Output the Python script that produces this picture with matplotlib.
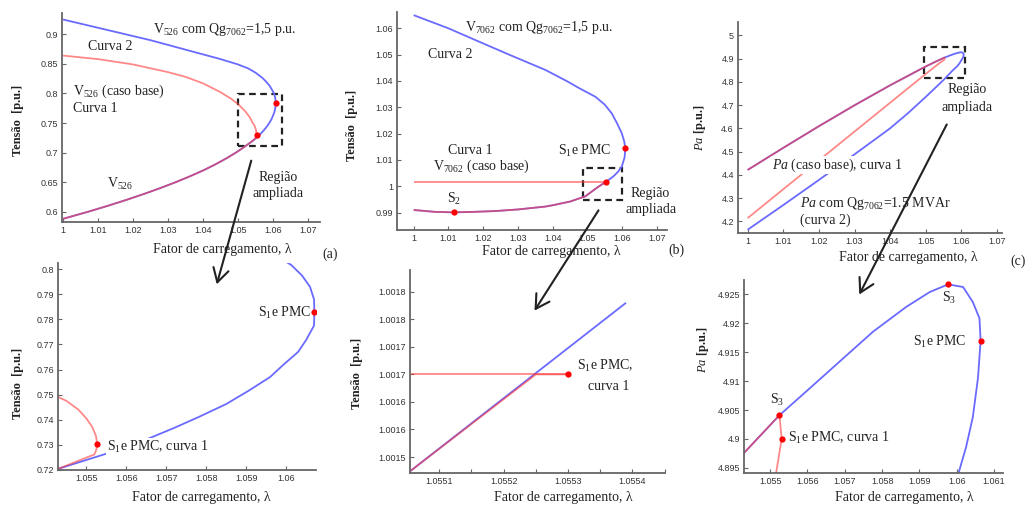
import matplotlib.pyplot as plt
from matplotlib.patches import Rectangle, FancyArrowPatch

plt.rcParams['font.family'] = ['Liberation Serif', 'DejaVu Serif']
plt.rcParams['mathtext.fontset'] = 'custom'
plt.rcParams['mathtext.rm'] = 'Liberation Serif'
plt.rcParams['mathtext.it'] = 'Liberation Serif:italic'
plt.rcParams['mathtext.bf'] = 'Liberation Serif:bold'

W, H = 1034, 508
BLUE = '#6a6aff'
RED = '#ff3a3a'
INK = '#222222'
AXC = '#666666'

# ---- panel (a): V526 ----
a_blue_x = [1.000, 1.005, 1.010, 1.015, 1.020, 1.025, 1.030, 1.035, 1.040, 1.045, 1.050,
            1.053, 1.055, 1.057, 1.058, 1.059, 1.0597, 1.06013, 1.0604, 1.0606, 1.0607,
            1.06071, 1.0607, 1.0605, 1.0603, 1.05992, 1.0596, 1.05908, 1.0585, 1.05782,
            1.0572, 1.05655, 1.0560, 1.0555, 1.0543, 1.0519, 1.0494, 1.0466, 1.0435,
            1.0401, 1.0363, 1.0322, 1.0278, 1.0231, 1.0181, 1.0128, 1.0072, 1.0036, 1.000]
a_blue_y = [0.925, 0.918, 0.911, 0.904, 0.897, 0.890, 0.882, 0.874, 0.866, 0.858, 0.849,
            0.842, 0.835, 0.826, 0.820, 0.813, 0.806, 0.8017, 0.7975, 0.793, 0.788,
            0.7831, 0.7775, 0.7717, 0.7670, 0.7617, 0.7570, 0.7517, 0.7462, 0.7411,
            0.7367, 0.7324, 0.7290, 0.7264, 0.7204, 0.710, 0.700, 0.690, 0.680,
            0.670, 0.660, 0.650, 0.640, 0.630, 0.620, 0.610, 0.600, 0.594, 0.588]
a_red_x = [1.000, 1.010, 1.020, 1.030, 1.035, 1.040, 1.045, 1.048, 1.050, 1.052, 1.0533,
           1.0538, 1.0542, 1.0545, 1.0548, 1.0550, 1.05515, 1.05524, 1.05527, 1.05525,
           1.0552, 1.0543, 1.0519, 1.0494, 1.0466, 1.0435, 1.0401, 1.0363, 1.0322, 1.0278,
           1.0231, 1.0181, 1.0128, 1.0072, 1.0036, 1.000]
a_red_y = [0.864, 0.858, 0.849, 0.836, 0.828, 0.817, 0.802, 0.791, 0.782, 0.770, 0.760,
           0.7545, 0.7497, 0.7475, 0.7440, 0.7405, 0.7370, 0.7335, 0.7304, 0.7280,
           0.7261, 0.7204, 0.710, 0.700, 0.690, 0.680, 0.670, 0.660, 0.650, 0.640,
           0.630, 0.620, 0.610, 0.600, 0.594, 0.588]
a_dot_x = [1.05527, 1.06071]
a_dot_y = [0.7304, 0.7831]

# ---- panel (b): V7062 ----
b_blue_x = [1.000, 1.010, 1.0187, 1.028, 1.0379, 1.044, 1.048, 1.0523, 1.055, 1.057, 1.0585,
            1.0599, 1.0606, 1.0609, 1.0607, 1.0599, 1.0588, 1.0575, 1.0563, 1.05539, 1.05505,
            1.053, 1.0494, 1.045, 1.040, 1.0379, 1.030, 1.0235, 1.0175, 1.0115, 1.006, 1.000]
b_blue_y = [1.065, 1.060, 1.055, 1.0497, 1.0442, 1.040, 1.037, 1.034, 1.031, 1.0277, 1.024,
            1.0201, 1.017, 1.0144, 1.011, 1.0075, 1.0055, 1.0038, 1.0026, 1.00178, 1.00147,
            0.9997, 0.9962, 0.9942, 0.9928, 0.9923, 0.9912, 0.9906, 0.9903, 0.9901, 0.9903, 0.991]
b_red_flat_x = [1.000, 1.0553]
b_red_flat_y = [1.00165, 1.00165]
b_red_low_x = [1.05525, 1.05505, 1.053, 1.0494, 1.045, 1.040, 1.0379, 1.030, 1.0235, 1.0175,
               1.0115, 1.006, 1.000]
b_red_low_y = [1.00165, 1.00147, 0.9997, 0.9962, 0.9942, 0.9928, 0.9923, 0.9912, 0.9906,
               0.9903, 0.9901, 0.9903, 0.991]
b_dot_x = [1.0609, 1.0553, 1.0115]
b_dot_y = [1.0144, 1.00165, 0.9901]
# zoomed detail of (b)
bz_blue_x = [1.05505, 1.05539]
bz_blue_y = [1.00147, 1.00178]
bz_red_x = [1.05505, 1.05525, 1.0553]
bz_red_y = [1.00147, 1.00165, 1.00165]
bz_flat_x = [1.05505, 1.0553]
bz_flat_y = [1.00165, 1.00165]
bz_dot_x = [1.0553]
bz_dot_y = [1.00165]

# ---- panel (c): Pa ----
c_blue_x = [1.000, 1.010, 1.020, 1.030, 1.040, 1.050, 1.05429, 1.05525, 1.05598, 1.05687,
            1.05776, 1.05865, 1.05928, 1.05977, 1.06017, 1.06043, 1.06061, 1.06064, 1.06057,
            1.06043, 1.06025, 1.06005, 1.0595, 1.0589, 1.0575, 1.055, 1.050, 1.045, 1.040,
            1.030, 1.020, 1.010, 1.000]
c_blue_y = [4.421, 4.516, 4.609, 4.699, 4.785, 4.866, 4.8975, 4.9041, 4.90829, 4.91343,
            4.91857, 4.92286, 4.92543, 4.92674, 4.92629, 4.92371, 4.92086, 4.91697, 4.91057,
            4.90371, 4.89857, 4.89411, 4.880, 4.868, 4.848, 4.808, 4.735, 4.665, 4.600,
            4.488, 4.378, 4.270, 4.164]
c_red_x = [1.000, 1.010, 1.020, 1.030, 1.040, 1.050, 1.05429, 1.05525, 1.05531, 1.05516,
           1.054, 1.050, 1.040, 1.030, 1.020, 1.010, 1.000]
c_red_y = [4.421, 4.516, 4.609, 4.699, 4.785, 4.866, 4.8975, 4.9041, 4.900, 4.8941,
           4.882, 4.834, 4.710, 4.586, 4.462, 4.338, 4.214]
c_dot_x = [1.05525, 1.05531, 1.05977, 1.06064]
c_dot_y = [4.9041, 4.900, 4.92674, 4.91697]

lam_ticks = [1.00, 1.01, 1.02, 1.03, 1.04, 1.05, 1.06, 1.07]
lam_labels = ['1', '1.01', '1.02', '1.03', '1.04', '1.05', '1.06', '1.07']

fig = plt.figure(figsize=(W / 100, H / 100), dpi=100)


def panel(left, top, right, bottom):
    ax = fig.add_axes([left / W, 1 - bottom / H, (right - left) / W, (bottom - top) / H])
    ax.patch.set_alpha(0)
    for s in ('top', 'right'):
        ax.spines[s].set_visible(False)
    for s in ('left', 'bottom'):
        ax.spines[s].set_color(AXC)
        ax.spines[s].set_linewidth(1.3)
    ax.tick_params(which='both', direction='in', length=3, width=0.8, color=AXC,
                   labelsize=6.5, labelcolor='#333333', pad=3)
    return ax


def ticks(ax, xt, xl, yt, yl):
    ax.set_xticks(xt)
    ax.set_xticklabels(xl, fontfamily='Liberation Sans')
    ax.set_yticks(yt)
    ax.set_yticklabels(yl, fontfamily='Liberation Sans')


def curves(ax, blues, reds, dots):
    for x, y in blues:
        ax.plot(x, y, color=BLUE, lw=1.3, solid_capstyle='butt', solid_joinstyle='round')
    for x, y in reds:
        ax.plot(x, y, color=RED, lw=1.3, alpha=0.6, solid_capstyle='butt', solid_joinstyle='round')
    ax.plot(dots[0], dots[1], 'o', color='red', ms=4.5, mec='none', zorder=5)


# top (a)
ax1 = panel(62, 13, 320, 222)
curves(ax1, [(a_blue_x, a_blue_y)], [(a_red_x, a_red_y)], (a_dot_x, a_dot_y))
ax1.set_xlim(0.9997, 1.0734)
ax1.set_ylim(0.5826, 0.936)
ticks(ax1, lam_ticks, lam_labels, [0.6, 0.65, 0.7, 0.75, 0.8, 0.85, 0.9],
      ['0.6', '0.65', '0.7', '0.75', '0.8', '0.85', '0.9'])
ax1.add_patch(Rectangle((1.0499, 0.7115), 0.0126, 0.087, fill=False, ls=(0, (3, 2)),
                        lw=1.6, color='#222222', clip_on=False))

# top (b)
ax2 = panel(397, 12, 667, 230)
curves(ax2, [(b_blue_x, b_blue_y)], [(b_red_flat_x, b_red_flat_y), (b_red_low_x, b_red_low_y)],
       (b_dot_x, b_dot_y))
ax2.set_xlim(0.9952, 1.0729)
ax2.set_ylim(0.9834, 1.0662)
ticks(ax2, lam_ticks, lam_labels, [0.99, 1.0, 1.01, 1.02, 1.03, 1.04, 1.05, 1.06],
      ['0.99', '1', '1.01', '1.02', '1.03', '1.04', '1.05', '1.06'])
ax2.add_patch(Rectangle((1.0487, 0.99482), 0.0112, 0.01204, fill=False, ls=(0, (3, 2)),
                        lw=1.6, color='#222222', clip_on=False))

# top (c)
ax3 = panel(738, 22, 1002, 233)
curves(ax3, [(c_blue_x, c_blue_y)], [(c_red_x, c_red_y)], ([], []))
ax3.set_xlim(0.9973, 1.0714)
ax3.set_ylim(4.150, 5.057)
ticks(ax3, lam_ticks, lam_labels, [4.2, 4.3, 4.4, 4.5, 4.6, 4.7, 4.8, 4.9, 5.0],
      ['4.2', '4.3', '4.4', '4.5', '4.6', '4.7', '4.8', '4.9', '5'])
ax3.add_patch(Rectangle((1.0494, 4.8144), 0.0117, 0.1356, fill=False, ls=(0, (3, 2)),
                        lw=1.6, color='#222222', clip_on=False))

# bottom (a) zoom
ax4 = panel(58, 263, 316, 470)
curves(ax4, [(a_blue_x, a_blue_y)], [(a_red_x, a_red_y)], (a_dot_x, a_dot_y))
ax4.set_xlim(1.05429, 1.06075)
ax4.set_ylim(0.7199, 0.8025)
ticks(ax4, [1.055, 1.056, 1.057, 1.058, 1.059, 1.06],
      ['1.055', '1.056', '1.057', '1.058', '1.059', '1.06'],
      [0.72, 0.73, 0.74, 0.75, 0.76, 0.77, 0.78, 0.79, 0.8],
      ['0.72', '0.73', '0.74', '0.75', '0.76', '0.77', '0.78', '0.79', '0.8'])

# bottom (b) zoom
ax5 = panel(410, 270, 665, 473)
curves(ax5, [(bz_blue_x, bz_blue_y)], [(bz_red_x, bz_red_y), (bz_flat_x, bz_flat_y)],
       (bz_dot_x, bz_dot_y))
ax5.set_xlim(1.0550545, 1.0554505)
ax5.set_ylim(1.001471, 1.0018395)
ticks(ax5, [1.0551, 1.0552, 1.0553, 1.0554], ['1.0551', '1.0552', '1.0553', '1.0554'],
      [1.0015, 1.00155, 1.0016, 1.00165, 1.0017, 1.00175, 1.0018],
      ['1.0015', '1.0016', '1.0016', '1.0017', '1.0017', '1.0018', '1.0018'])
ax5.set_xticks([1.05515, 1.05525, 1.05535, 1.05545], minor=True)

# bottom (c) zoom
ax6 = panel(744, 280, 1003, 473)
curves(ax6, [(c_blue_x, c_blue_y)], [(c_red_x, c_red_y)], (c_dot_x, c_dot_y))
ax6.set_xlim(1.05430, 1.06124)
ax6.set_ylim(4.8941, 4.9275)
ticks(ax6, [1.055, 1.056, 1.057, 1.058, 1.059, 1.06, 1.061],
      ['1.055', '1.056', '1.057', '1.058', '1.059', '1.06', '1.061'],
      [4.895, 4.9, 4.905, 4.91, 4.915, 4.92, 4.925],
      ['4.895', '4.9', '4.905', '4.91', '4.915', '4.92', '4.925'])

# overlay in pixel coordinates for labels and arrows
ov = fig.add_axes([0, 0, 1, 1], zorder=10)
ov.set_xlim(0, W)
ov.set_ylim(H, 0)
ov.axis('off')
ov.patch.set_alpha(0)


def t(x, y, s, ha='left', size=10, box=False, **kw):
    bb = dict(fc='white', ec='none', pad=0.5) if box else None
    ov.text(x, y, s, ha=ha, va='center', fontsize=size, color=INK, bbox=bb, **kw)


XL = 'Fator de carregamento, λ'
TY = 'Tensão  [p.u.]'
PY = r'$\mathit{Pa}$ [p.u.]'

# (a)
t(153, 29, r'V$_{526}$ com Qg$_{7062}$=1,5 p.u.')
t(88, 47, 'Curva 2')
t(73, 91, r'V$_{526}$ (caso base)')
t(73, 108, 'Curva 1')
t(107, 184, r'V$_{526}$')
t(278, 177, 'Região', ha='center')
t(278, 193, 'ampliada', ha='center')
t(222, 249, XL, ha='center')
t(330, 254, '(a)', ha='center')
t(18, 120, TY, ha='center', size=9, rotation=90, fontweight='bold')
# (b)
t(465, 28, r'V$_{7062}$ com Qg$_{7062}$=1,5 p.u.')
t(428, 55, 'Curva 2')
t(448, 150, 'Curva 1')
t(433, 166, r'V$_{7062}$ (caso base)')
t(447, 199, r'S$_2$')
t(558, 151, r'S$_1$e PMC')
t(650, 193, 'Região', ha='center')
t(651, 210, 'ampliada', ha='center')
t(551, 252, XL, ha='center')
t(676, 250, '(b)', ha='center')
t(352, 125, TY, ha='center', size=9, rotation=90, fontweight='bold')
# (c)
t(967, 90, 'Região', ha='center')
t(967, 107, 'ampliada', ha='center')
t(772, 165, r'$\mathit{Pa}$ (caso base), curva 1', box=True)
t(800, 204, r'$\mathit{Pa}$ com Qg$_{7062}$=1.5 MVAr')
t(800, 220, '(curva 2)')
t(908, 258, XL, ha='center')
t(1018, 261, '(c)', ha='center')
t(700, 128, PY, ha='center', size=9, rotation=90, fontweight='bold')
# bottom (a)
t(258, 313, r'S$_1$e PMC')
t(107, 447, r'S$_1$e PMC, curva 1', box=True)
t(201, 497, XL, ha='center')
t(18, 383, TY, ha='center', size=9, rotation=90, fontweight='bold')
# bottom (b)
t(577, 366, r'S$_1$e PMC,')
t(609, 387, 'curva 1', ha='center')
t(563, 497, XL, ha='center')
t(357, 373, TY, ha='center', size=9, rotation=90, fontweight='bold')
# bottom (c)
t(949, 298, r'S$_3$', ha='center')
t(913, 342, r'S$_1$e PMC')
t(770, 400, r'S$_3$')
t(788, 438, r'S$_1$e PMC, curva 1')
t(904, 497, XL, ha='center')
t(703, 350, PY, ha='center', size=9, rotation=90, fontweight='bold')

for (x0, y0), (x1, y1) in [((252, 158), (216, 287)), ((600, 208), (533, 313)),
                           ((948, 122), (858, 297))]:
    ov.add_patch(FancyArrowPatch((x0, y0), (x1, y1), arrowstyle='->,head_length=0.7,head_width=0.4',
                                 mutation_scale=14, lw=1.5, color='#222222', zorder=12))

fig.savefig('out.png', dpi=100)
